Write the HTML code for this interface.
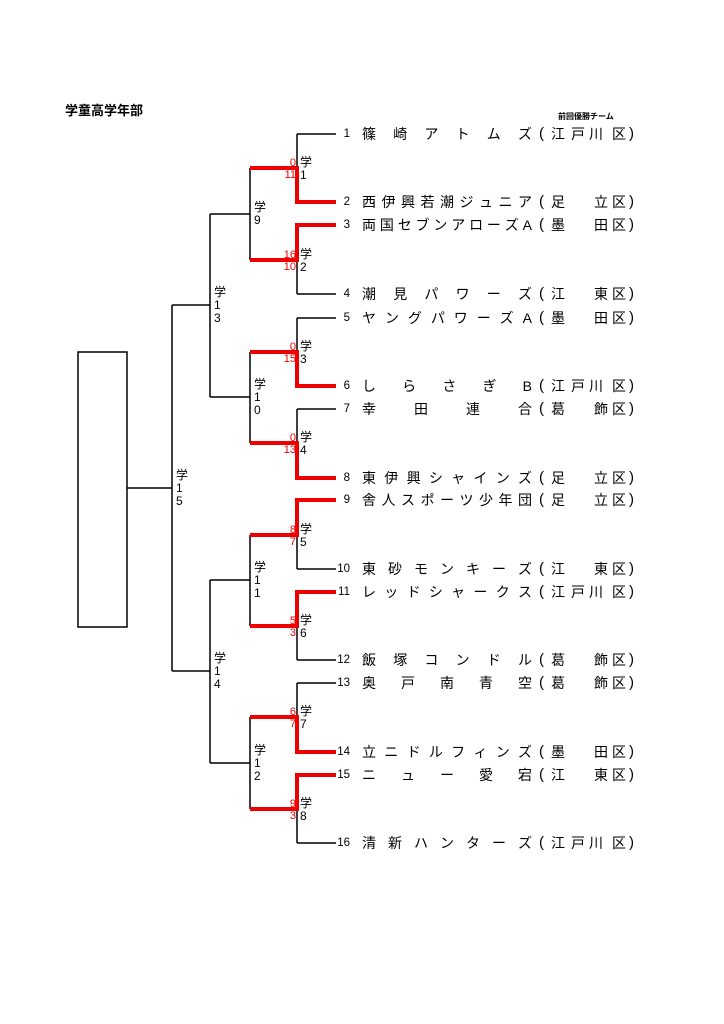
<!DOCTYPE html>
<html><head><meta charset="utf-8">
<style>
body{margin:0;background:#fff;}
#w{position:relative;width:724px;height:1024px;overflow:hidden;font-family:"Liberation Sans","Noto Sans CJK JP",sans-serif;color:#000;}
.a{position:absolute;white-space:nowrap;}
.row{position:absolute;left:330px;width:310px;height:18px;font-size:14px;line-height:18px;}
.row .p{position:absolute;font-size:15px;}
.num{position:absolute;left:0;width:20px;text-align:right;font-size:11.5px;}
.name{position:absolute;left:32px;width:170px;display:flex;justify-content:space-between;}
.lb{position:absolute;font-size:12px;line-height:13px;width:12px;text-align:left;}
.sc{position:absolute;font-size:11px;line-height:12px;color:#e00;text-align:right;width:20px;}
</style></head><body><div id="w">
<svg class="a" style="left:0;top:0" width="724" height="1024">
<g stroke="#000" stroke-width="1.5" fill="none">
<rect x="78" y="352" width="49" height="275"/>
<path d="M127 488H172M172 305V671M172 305H210M172 671H210"/>
<path d="M210 214V397M210 580V763M210 214H250M210 397H250M210 580H250M210 763H250"/>
<path d="M250 168V260M250 352V443M250 535V626M250 717V809"/>
<path d="M297 134V202M297 225V294M297 318V386M297 409V478M297 500V569M297 592V660M297 683V752M297 775V843"/>
<path d="M297 134H336M297 202H336M297 225H336M297 294H336M297 318H336M297 386H336M297 409H336M297 478H336M297 500H336M297 569H336M297 592H336M297 660H336M297 683H336M297 752H336M297 775H336M297 843H336"/>
</g>
<g stroke="#e00" stroke-width="4" fill="none">
<path d="M250 168H297V202H336"/>
<path d="M250 260H297V225H336"/>
<path d="M250 352H297V386H336"/>
<path d="M250 443H297V478H336"/>
<path d="M250 535H297V500H336"/>
<path d="M250 626H297V592H336"/>
<path d="M250 717H297V752H336"/>
<path d="M250 809H297V775H336"/>
</g>
</svg>
<div class="a" style="left:65px;top:100px;font-size:13px;font-weight:bold;">学童高学年部</div>
<div class="a" style="left:558px;top:111px;font-size:8px;font-weight:bold;">前回優勝チーム</div>

<div class="lb" style="left:300px;top:156px">学<br>1</div>
<div class="lb" style="left:300px;top:248px">学<br>2</div>
<div class="lb" style="left:300px;top:340px">学<br>3</div>
<div class="lb" style="left:300px;top:431px">学<br>4</div>
<div class="lb" style="left:300px;top:523px">学<br>5</div>
<div class="lb" style="left:300px;top:614px">学<br>6</div>
<div class="lb" style="left:300px;top:705px">学<br>7</div>
<div class="lb" style="left:300px;top:797px">学<br>8</div>
<div class="lb" style="left:254px;top:201px">学<br>9</div>
<div class="lb" style="left:254px;top:378px">学<br>1<br>0</div>
<div class="lb" style="left:254px;top:561px">学<br>1<br>1</div>
<div class="lb" style="left:254px;top:744px">学<br>1<br>2</div>
<div class="lb" style="left:214px;top:286px">学<br>1<br>3</div>
<div class="lb" style="left:214px;top:652px">学<br>1<br>4</div>
<div class="lb" style="left:176px;top:469px">学<br>1<br>5</div>

<div class="sc" style="left:276px;top:157px">0</div><div class="sc" style="left:276px;top:169px">11</div>
<div class="sc" style="left:276px;top:249px">16</div><div class="sc" style="left:276px;top:261px">10</div>
<div class="sc" style="left:276px;top:341px">0</div><div class="sc" style="left:276px;top:353px">15</div>
<div class="sc" style="left:276px;top:432px">0</div><div class="sc" style="left:276px;top:444px">13</div>
<div class="sc" style="left:276px;top:524px">8</div><div class="sc" style="left:276px;top:536px">7</div>
<div class="sc" style="left:276px;top:615px">5</div><div class="sc" style="left:276px;top:627px">3</div>
<div class="sc" style="left:276px;top:706px">6</div><div class="sc" style="left:276px;top:718px">7</div>
<div class="sc" style="left:276px;top:798px">9</div><div class="sc" style="left:276px;top:810px">3</div>

<div class="row" style="top:125px"><span class="num">1</span><div class="name"><span>篠</span><span>崎</span><span>ア</span><span>ト</span><span>ム</span><span>ズ</span></div><span class="a p" style="left:209px">(</span><span class="a" style="left:221px">江</span><span class="a" style="left:241px">戸</span><span class="a" style="left:259px">川</span><span class="a" style="left:282px">区</span><span class="a p" style="left:299px">)</span></div>
<div class="row" style="top:193px"><span class="num">2</span><div class="name"><span>西</span><span>伊</span><span>興</span><span>若</span><span>潮</span><span>ジ</span><span>ュ</span><span>ニ</span><span>ア</span></div><span class="a p" style="left:209px">(</span><span class="a" style="left:221px">足</span><span class="a" style="left:264px">立</span><span class="a" style="left:282px">区</span><span class="a p" style="left:299px">)</span></div>
<div class="row" style="top:216px"><span class="num">3</span><div class="name"><span>両</span><span>国</span><span>セ</span><span>ブ</span><span>ン</span><span>ア</span><span>ロ</span><span>ー</span><span>ズ</span><span>A</span></div><span class="a p" style="left:209px">(</span><span class="a" style="left:221px">墨</span><span class="a" style="left:264px">田</span><span class="a" style="left:282px">区</span><span class="a p" style="left:299px">)</span></div>
<div class="row" style="top:285px"><span class="num">4</span><div class="name"><span>潮</span><span>見</span><span>パ</span><span>ワ</span><span>ー</span><span>ズ</span></div><span class="a p" style="left:209px">(</span><span class="a" style="left:221px">江</span><span class="a" style="left:264px">東</span><span class="a" style="left:282px">区</span><span class="a p" style="left:299px">)</span></div>
<div class="row" style="top:309px"><span class="num">5</span><div class="name"><span>ヤ</span><span>ン</span><span>グ</span><span>パ</span><span>ワ</span><span>ー</span><span>ズ</span><span>A</span></div><span class="a p" style="left:209px">(</span><span class="a" style="left:221px">墨</span><span class="a" style="left:264px">田</span><span class="a" style="left:282px">区</span><span class="a p" style="left:299px">)</span></div>
<div class="row" style="top:377px"><span class="num">6</span><div class="name"><span>し</span><span>ら</span><span>さ</span><span>ぎ</span><span>B</span></div><span class="a p" style="left:209px">(</span><span class="a" style="left:221px">江</span><span class="a" style="left:241px">戸</span><span class="a" style="left:259px">川</span><span class="a" style="left:282px">区</span><span class="a p" style="left:299px">)</span></div>
<div class="row" style="top:400px"><span class="num">7</span><div class="name"><span>幸</span><span>田</span><span>連</span><span>合</span></div><span class="a p" style="left:209px">(</span><span class="a" style="left:221px">葛</span><span class="a" style="left:264px">飾</span><span class="a" style="left:282px">区</span><span class="a p" style="left:299px">)</span></div>
<div class="row" style="top:469px"><span class="num">8</span><div class="name"><span>東</span><span>伊</span><span>興</span><span>シ</span><span>ャ</span><span>イ</span><span>ン</span><span>ズ</span></div><span class="a p" style="left:209px">(</span><span class="a" style="left:221px">足</span><span class="a" style="left:264px">立</span><span class="a" style="left:282px">区</span><span class="a p" style="left:299px">)</span></div>
<div class="row" style="top:491px"><span class="num">9</span><div class="name"><span>舎</span><span>人</span><span>ス</span><span>ポ</span><span>ー</span><span>ツ</span><span>少</span><span>年</span><span>団</span></div><span class="a p" style="left:209px">(</span><span class="a" style="left:221px">足</span><span class="a" style="left:264px">立</span><span class="a" style="left:282px">区</span><span class="a p" style="left:299px">)</span></div>
<div class="row" style="top:560px"><span class="num">10</span><div class="name"><span>東</span><span>砂</span><span>モ</span><span>ン</span><span>キ</span><span>ー</span><span>ズ</span></div><span class="a p" style="left:209px">(</span><span class="a" style="left:221px">江</span><span class="a" style="left:264px">東</span><span class="a" style="left:282px">区</span><span class="a p" style="left:299px">)</span></div>
<div class="row" style="top:583px"><span class="num">11</span><div class="name"><span>レ</span><span>ッ</span><span>ド</span><span>シ</span><span>ャ</span><span>ー</span><span>ク</span><span>ス</span></div><span class="a p" style="left:209px">(</span><span class="a" style="left:221px">江</span><span class="a" style="left:241px">戸</span><span class="a" style="left:259px">川</span><span class="a" style="left:282px">区</span><span class="a p" style="left:299px">)</span></div>
<div class="row" style="top:651px"><span class="num">12</span><div class="name"><span>飯</span><span>塚</span><span>コ</span><span>ン</span><span>ド</span><span>ル</span></div><span class="a p" style="left:209px">(</span><span class="a" style="left:221px">葛</span><span class="a" style="left:264px">飾</span><span class="a" style="left:282px">区</span><span class="a p" style="left:299px">)</span></div>
<div class="row" style="top:674px"><span class="num">13</span><div class="name"><span>奥</span><span>戸</span><span>南</span><span>青</span><span>空</span></div><span class="a p" style="left:209px">(</span><span class="a" style="left:221px">葛</span><span class="a" style="left:264px">飾</span><span class="a" style="left:282px">区</span><span class="a p" style="left:299px">)</span></div>
<div class="row" style="top:743px"><span class="num">14</span><div class="name"><span>立</span><span>ニ</span><span>ド</span><span>ル</span><span>フ</span><span>ィ</span><span>ン</span><span>ズ</span></div><span class="a p" style="left:209px">(</span><span class="a" style="left:221px">墨</span><span class="a" style="left:264px">田</span><span class="a" style="left:282px">区</span><span class="a p" style="left:299px">)</span></div>
<div class="row" style="top:766px"><span class="num">15</span><div class="name"><span>ニ</span><span>ュ</span><span>ー</span><span>愛</span><span>宕</span></div><span class="a p" style="left:209px">(</span><span class="a" style="left:221px">江</span><span class="a" style="left:264px">東</span><span class="a" style="left:282px">区</span><span class="a p" style="left:299px">)</span></div>
<div class="row" style="top:834px"><span class="num">16</span><div class="name"><span>清</span><span>新</span><span>ハ</span><span>ン</span><span>タ</span><span>ー</span><span>ズ</span></div><span class="a p" style="left:209px">(</span><span class="a" style="left:221px">江</span><span class="a" style="left:241px">戸</span><span class="a" style="left:259px">川</span><span class="a" style="left:282px">区</span><span class="a p" style="left:299px">)</span></div>
</div></body></html>
